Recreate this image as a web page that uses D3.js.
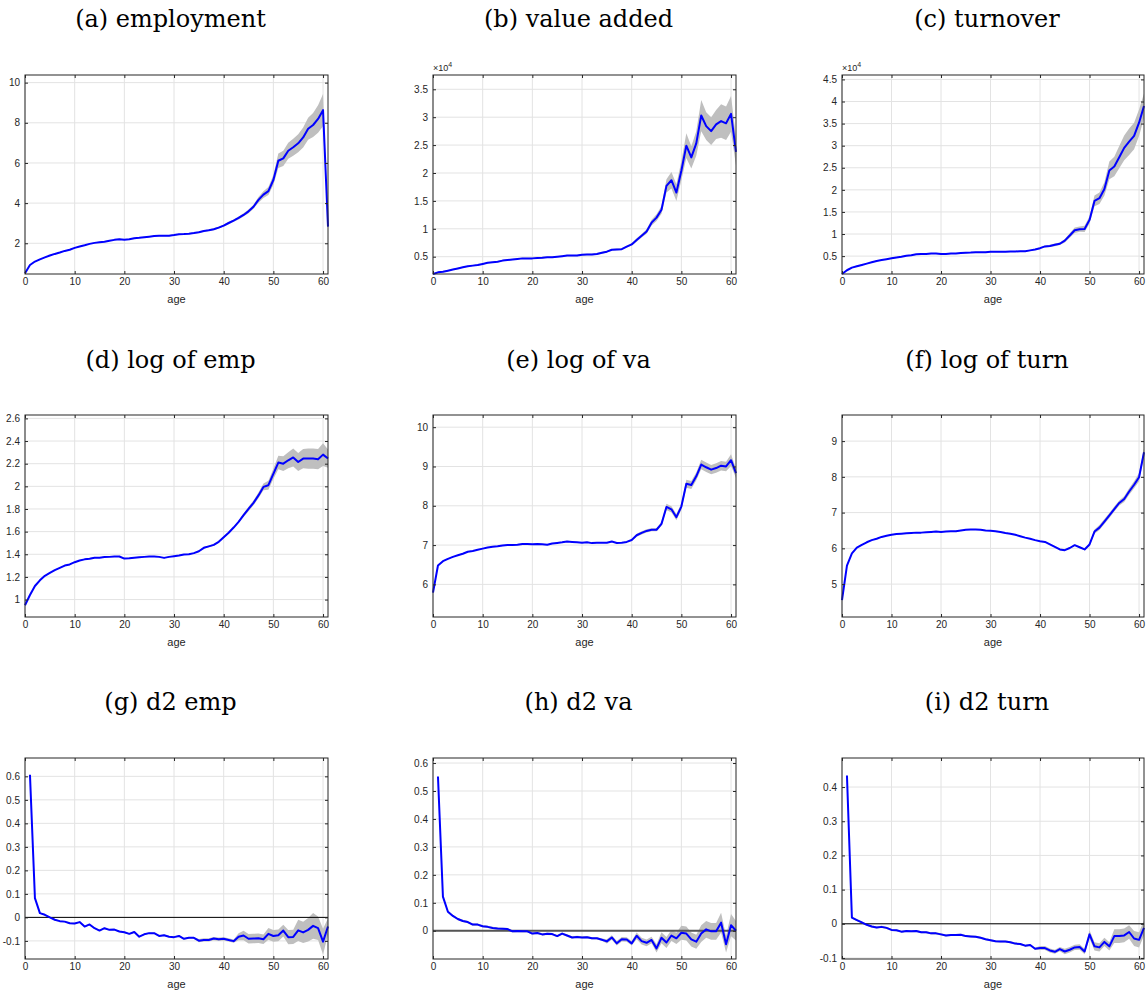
<!DOCTYPE html>
<html>
<head>
<meta charset="utf-8">
<script src="https://cdn.jsdelivr.net/npm/d3@7"></script>
<style>
  body { margin: 0; background: #fff; }
  svg { display: block; }
  .tick text { font-family: "Liberation Sans", Arial, sans-serif; font-size: 10px; fill: #262626; }
</style>
</head>
<body>
<svg id="chart" width="1148" height="991"></svg>
<script>
// ages on the x axis
const ages = d3.range(0, 62);
const ages2 = d3.range(1, 62);

const titles = ['(a) employment', '(b) value added', '(c) turnover',
  '(d) log of emp', '(e) log of va', '(f) log of turn',
  '(g) d2 emp', '(h) d2 va', '(i) d2 turn'];

// (a) employment
const empMean = [0.51, 0.92, 1.09, 1.2, 1.3, 1.39, 1.47, 1.54, 1.62, 1.68,
  1.77, 1.84, 1.9, 1.97, 2.02, 2.05, 2.08, 2.13, 2.17, 2.2,
  2.18, 2.2, 2.25, 2.27, 2.3, 2.33, 2.36, 2.38, 2.38, 2.38,
  2.41, 2.45, 2.46, 2.48, 2.51, 2.55, 2.61, 2.65, 2.7, 2.78,
  2.88, 3.01, 3.13, 3.26, 3.41, 3.59, 3.82, 4.16, 4.42, 4.6,
  5.15, 6.11, 6.23, 6.61, 6.78, 6.98, 7.27, 7.7, 7.89, 8.19,
  8.63, 2.83];
const empBand = [0.02, 0.02, 0.02, 0.02, 0.02, 0.02, 0.02, 0.02, 0.02, 0.02,
  0.02, 0.02, 0.02, 0.02, 0.02, 0.02, 0.02, 0.02, 0.02, 0.02,
  0.02, 0.02, 0.02, 0.02, 0.02, 0.02, 0.02, 0.03, 0.03, 0.03,
  0.03, 0.03, 0.03, 0.03, 0.03, 0.04, 0.04, 0.04, 0.05, 0.05,
  0.05, 0.06, 0.06, 0.07, 0.08, 0.09, 0.1, 0.14, 0.17, 0.2,
  0.25, 0.36, 0.38, 0.4, 0.42, 0.45, 0.5, 0.55, 0.6, 0.68,
  0.8, 0.08];

// (b) value added, x10^4
const vaMean = [0.19, 0.22, 0.23, 0.25, 0.27, 0.29, 0.31, 0.33, 0.34, 0.35,
  0.37, 0.39, 0.4, 0.41, 0.43, 0.44, 0.45, 0.46, 0.47, 0.47,
  0.47, 0.475, 0.48, 0.49, 0.49, 0.5, 0.51, 0.52, 0.52, 0.52,
  0.535, 0.54, 0.54, 0.55, 0.57, 0.59, 0.625, 0.63, 0.635, 0.68,
  0.72, 0.8, 0.875, 0.95, 1.11, 1.2, 1.34, 1.77, 1.87, 1.65,
  2.04, 2.49, 2.28, 2.53, 3.03, 2.84, 2.75, 2.87, 2.93, 2.89,
  3.06, 2.38];
const vaBand = [0.01, 0.01, 0.01, 0.01, 0.01, 0.01, 0.01, 0.01, 0.01, 0.01,
  0.01, 0.01, 0.01, 0.01, 0.01, 0.01, 0.01, 0.01, 0.01, 0.01,
  0.01, 0.01, 0.01, 0.01, 0.01, 0.01, 0.01, 0.01, 0.01, 0.01,
  0.015, 0.015, 0.015, 0.015, 0.015, 0.015, 0.015, 0.015, 0.015, 0.015,
  0.02, 0.03, 0.03, 0.04, 0.05, 0.06, 0.07, 0.12, 0.15, 0.15,
  0.17, 0.22, 0.2, 0.22, 0.28, 0.25, 0.25, 0.26, 0.3, 0.3,
  0.32, 0.25];

// (c) turnover, x10^4
const turnMean = [0.095, 0.18, 0.24, 0.27, 0.3, 0.33, 0.36, 0.39, 0.41, 0.43,
  0.45, 0.47, 0.485, 0.51, 0.52, 0.54, 0.545, 0.55, 0.56, 0.56,
  0.55, 0.55, 0.56, 0.56, 0.57, 0.575, 0.58, 0.59, 0.59, 0.59,
  0.6, 0.6, 0.6, 0.6, 0.605, 0.605, 0.61, 0.61, 0.63, 0.65,
  0.68, 0.72, 0.73, 0.755, 0.78, 0.85, 0.965, 1.085, 1.11, 1.115,
  1.32, 1.75, 1.81, 2.02, 2.44, 2.53, 2.74, 2.95, 3.09, 3.22,
  3.52, 3.9];
const turnBand = [0.01, 0.01, 0.01, 0.01, 0.01, 0.01, 0.01, 0.01, 0.01, 0.01,
  0.01, 0.01, 0.01, 0.01, 0.01, 0.01, 0.01, 0.01, 0.01, 0.01,
  0.01, 0.01, 0.01, 0.01, 0.01, 0.01, 0.01, 0.01, 0.01, 0.01,
  0.012, 0.012, 0.012, 0.012, 0.012, 0.012, 0.012, 0.012, 0.012, 0.012,
  0.02, 0.02, 0.025, 0.03, 0.03, 0.04, 0.05, 0.06, 0.06, 0.07,
  0.08, 0.12, 0.13, 0.15, 0.2, 0.22, 0.25, 0.28, 0.3, 0.3,
  0.3, 0.28];

// (d) log of emp
const lempMean = [0.95, 1.04, 1.12, 1.17, 1.21, 1.235, 1.26, 1.28, 1.3, 1.31,
  1.33, 1.345, 1.355, 1.36, 1.37, 1.37, 1.375, 1.377, 1.38, 1.38,
  1.362, 1.365, 1.37, 1.374, 1.377, 1.38, 1.38, 1.377, 1.368, 1.377,
  1.383, 1.39, 1.398, 1.4, 1.41, 1.427, 1.457, 1.47, 1.483, 1.51,
  1.55, 1.59, 1.636, 1.686, 1.745, 1.8, 1.854, 1.92, 1.995, 2.01,
  2.11, 2.21, 2.2, 2.23, 2.255, 2.215, 2.245, 2.245, 2.245, 2.24,
  2.28, 2.245];
const lempBand = [0.004, 0.004, 0.004, 0.004, 0.004, 0.004, 0.004, 0.004, 0.004, 0.004,
  0.004, 0.004, 0.004, 0.004, 0.004, 0.004, 0.004, 0.004, 0.004, 0.004,
  0.004, 0.004, 0.004, 0.004, 0.004, 0.004, 0.004, 0.004, 0.004, 0.004,
  0.004, 0.004, 0.004, 0.004, 0.004, 0.004, 0.008, 0.008, 0.008, 0.008,
  0.008, 0.008, 0.008, 0.008, 0.015, 0.02, 0.02, 0.025, 0.03, 0.04,
  0.045, 0.06, 0.065, 0.07, 0.08, 0.08, 0.085, 0.09, 0.09, 0.09,
  0.1, 0.08];

// (e) log of va
const lvaMean = [5.79, 6.48, 6.59, 6.65, 6.7, 6.74, 6.78, 6.83, 6.85, 6.88,
  6.91, 6.94, 6.96, 6.97, 6.99, 7.0, 7.0, 7.01, 7.03, 7.03,
  7.02, 7.03, 7.02, 7.01, 7.04, 7.055, 7.07, 7.09, 7.08, 7.07,
  7.06, 7.07, 7.05, 7.06, 7.06, 7.06, 7.09, 7.055, 7.06, 7.08,
  7.13, 7.25, 7.31, 7.36, 7.39, 7.39, 7.54, 7.97, 7.91, 7.71,
  7.98, 8.56, 8.53, 8.75, 9.05, 8.98, 8.92, 8.96, 9.02, 9.0,
  9.16, 8.83];
const lvaBand = [0.008, 0.008, 0.008, 0.008, 0.008, 0.008, 0.008, 0.008, 0.008, 0.008,
  0.008, 0.008, 0.008, 0.008, 0.008, 0.008, 0.008, 0.008, 0.008, 0.008,
  0.008, 0.008, 0.008, 0.008, 0.008, 0.008, 0.008, 0.008, 0.008, 0.008,
  0.008, 0.008, 0.008, 0.008, 0.008, 0.008, 0.008, 0.008, 0.008, 0.008,
  0.02, 0.04, 0.04, 0.04, 0.04, 0.04, 0.05, 0.08, 0.08, 0.08,
  0.08, 0.1, 0.1, 0.1, 0.12, 0.12, 0.12, 0.12, 0.12, 0.12,
  0.15, 0.12];

// (f) log of turn
const lturnMean = [4.55, 5.52, 5.86, 6.02, 6.1, 6.17, 6.23, 6.27, 6.32, 6.35,
  6.38, 6.4, 6.41, 6.42, 6.43, 6.44, 6.44, 6.45, 6.46, 6.47,
  6.46, 6.47, 6.48, 6.48, 6.5, 6.52, 6.53, 6.53, 6.52, 6.5,
  6.49, 6.48, 6.46, 6.43, 6.41, 6.38, 6.34, 6.3, 6.27, 6.23,
  6.2, 6.18, 6.11, 6.04, 5.97, 5.95, 6.01, 6.09, 6.03, 5.97,
  6.11, 6.47, 6.58, 6.75, 6.92, 7.1, 7.27, 7.38, 7.59, 7.78,
  7.99, 8.69];
const lturnBand = [0.008, 0.008, 0.008, 0.008, 0.008, 0.008, 0.008, 0.008, 0.008, 0.008,
  0.008, 0.008, 0.008, 0.008, 0.008, 0.008, 0.008, 0.008, 0.008, 0.008,
  0.008, 0.008, 0.008, 0.008, 0.008, 0.008, 0.008, 0.008, 0.008, 0.008,
  0.008, 0.008, 0.008, 0.008, 0.008, 0.008, 0.008, 0.008, 0.008, 0.008,
  0.008, 0.008, 0.008, 0.008, 0.02, 0.02, 0.02, 0.02, 0.02, 0.02,
  0.03, 0.06, 0.07, 0.07, 0.07, 0.07, 0.07, 0.08, 0.09, 0.1,
  0.12, 0.1];

// (g) d2 emp, ages 1..61
const d2empMean = [0.607, 0.082, 0.018, 0.011, 0.0, -0.01, -0.016, -0.018, -0.025,
  -0.026, -0.02, -0.039, -0.03, -0.046, -0.056, -0.046, -0.053, -0.052, -0.06,
  -0.063, -0.07, -0.062, -0.082, -0.072, -0.067, -0.067, -0.079, -0.076, -0.082,
  -0.084, -0.079, -0.091, -0.087, -0.087, -0.099, -0.096, -0.096, -0.09, -0.093,
  -0.091, -0.096, -0.101, -0.082, -0.077, -0.091, -0.09, -0.089, -0.093, -0.07,
  -0.079, -0.076, -0.056, -0.084, -0.083, -0.055, -0.064, -0.053, -0.036, -0.046,
  -0.103, -0.039];
const d2empBand = [0.003, 0.003, 0.003, 0.003, 0.003, 0.003, 0.003, 0.003, 0.003,
  0.003, 0.003, 0.003, 0.003, 0.003, 0.003, 0.003, 0.003, 0.003, 0.003,
  0.003, 0.003, 0.003, 0.003, 0.003, 0.003, 0.003, 0.003, 0.003, 0.003,
  0.003, 0.003, 0.003, 0.003, 0.003, 0.007, 0.007, 0.007, 0.007, 0.007,
  0.007, 0.007, 0.007, 0.015, 0.02, 0.02, 0.02, 0.02, 0.02, 0.025,
  0.025, 0.025, 0.025, 0.03, 0.03, 0.045, 0.045, 0.05, 0.055, 0.05,
  0.055, 0.035];

// (h) d2 va, ages 1..61
const d2vaMean = [0.552, 0.122, 0.068, 0.053, 0.042, 0.035, 0.031, 0.022, 0.022,
  0.016, 0.014, 0.01, 0.008, 0.007, 0.006, -0.002, -0.001, -0.002, -0.002,
  -0.01, -0.008, -0.013, -0.011, -0.012, -0.019, -0.01, -0.017, -0.024, -0.022,
  -0.024, -0.023, -0.027, -0.027, -0.032, -0.038, -0.024, -0.045, -0.03, -0.031,
  -0.045, -0.018, -0.037, -0.043, -0.033, -0.063, -0.025, -0.042, -0.017, -0.027,
  -0.007, -0.01, -0.031, -0.039, -0.01, 0.005, -0.002, -0.002, 0.029, -0.048,
  0.02, 0.0];
const d2vaBand = [0.004, 0.004, 0.004, 0.004, 0.004, 0.004, 0.004, 0.004, 0.004,
  0.004, 0.004, 0.004, 0.004, 0.004, 0.004, 0.004, 0.004, 0.004, 0.004,
  0.004, 0.004, 0.004, 0.004, 0.004, 0.004, 0.004, 0.004, 0.004, 0.004,
  0.004, 0.004, 0.004, 0.004, 0.004, 0.008, 0.008, 0.008, 0.008, 0.008,
  0.008, 0.012, 0.012, 0.012, 0.012, 0.015, 0.02, 0.02, 0.02, 0.02,
  0.025, 0.025, 0.025, 0.025, 0.03, 0.03, 0.03, 0.03, 0.035, 0.03,
  0.04, 0.035];

// (i) d2 turn, ages 1..61
const d2turnMean = [0.434, 0.018, 0.011, 0.004, -0.003, -0.008, -0.011, -0.009, -0.012,
  -0.018, -0.019, -0.023, -0.021, -0.022, -0.021, -0.025, -0.025, -0.028, -0.028,
  -0.031, -0.034, -0.033, -0.033, -0.032, -0.036, -0.037, -0.038, -0.041, -0.045,
  -0.048, -0.051, -0.052, -0.052, -0.054, -0.058, -0.059, -0.064, -0.062, -0.073,
  -0.071, -0.071, -0.078, -0.082, -0.074, -0.081, -0.076, -0.069, -0.068, -0.081,
  -0.031, -0.066, -0.069, -0.053, -0.066, -0.036, -0.036, -0.034, -0.024, -0.043,
  -0.047, -0.012];
const d2turnBand = [0.003, 0.003, 0.003, 0.003, 0.003, 0.003, 0.003, 0.003, 0.003,
  0.003, 0.003, 0.003, 0.003, 0.003, 0.003, 0.003, 0.003, 0.003, 0.003,
  0.003, 0.003, 0.003, 0.003, 0.003, 0.003, 0.003, 0.003, 0.003, 0.003,
  0.003, 0.003, 0.003, 0.003, 0.003, 0.003, 0.003, 0.003, 0.003, 0.003,
  0.006, 0.006, 0.006, 0.006, 0.006, 0.008, 0.008, 0.008, 0.008, 0.008,
  0.012, 0.012, 0.012, 0.012, 0.012, 0.02, 0.02, 0.02, 0.02, 0.022,
  0.022, 0.022];

const xTicks = [0, 10, 20, 30, 40, 50, 60];
const yTicksList = [
  [2, 4, 6, 8, 10],
  [0.5, 1, 1.5, 2, 2.5, 3, 3.5],
  [0.5, 1, 1.5, 2, 2.5, 3, 3.5, 4, 4.5],
  [1, 1.2, 1.4, 1.6, 1.8, 2, 2.2, 2.4, 2.6],
  [6, 7, 8, 9, 10],
  [5, 6, 7, 8, 9],
  [-0.1, 0, 0.1, 0.2, 0.3, 0.4, 0.5, 0.6],
  [0, 0.1, 0.2, 0.3, 0.4, 0.5, 0.6],
  [-0.1, 0, 0.1, 0.2, 0.3, 0.4]
];
const yDomains = [
  [0.47, 10.38], [0.19, 3.756], [0.095, 4.6],
  [0.846, 2.63], [5.17, 10.31], [4.08, 9.73],
  [-0.177, 0.678], [-0.101, 0.618], [-0.103, 0.485]
];

const panels = [
  {x: ages, mean: empMean, band: empBand},
  {x: ages, mean: vaMean, band: vaBand, exponent: true},
  {x: ages, mean: turnMean, band: turnBand, exponent: true},
  {x: ages, mean: lempMean, band: lempBand},
  {x: ages, mean: lvaMean, band: lvaBand},
  {x: ages, mean: lturnMean, band: lturnBand},
  {x: ages2, mean: d2empMean, band: d2empBand, zero: true},
  {x: ages2, mean: d2vaMean, band: d2vaBand, zero: true},
  {x: ages2, mean: d2turnMean, band: d2turnBand, zero: true}
];

// layout of the 3x3 grid of axes
const colLeft = [25, 433, 842];
const colRight = [328, 736, 1144];
const rowTop = [75, 415, 758];
const rowBottom = [274, 617, 959];
const titleY = [27, 368, 710];

const svg = d3.select('#chart');
const fmt = d => String(+d.toFixed(2));

panels.forEach((p, i) => {
  const col = i % 3, row = Math.floor(i / 3);
  const L = colLeft[col], R = colRight[col], T = rowTop[row], B = rowBottom[row];

  const x = d3.scaleLinear().domain([0, 61]).range([L, R]);
  const y = d3.scaleLinear().domain(yDomains[i]).range([B, T]);
  const yTicks = yTicksList[i];

  const g = svg.append('g');

  // grid
  g.append('g').selectAll('line').data(xTicks).join('line')
    .attr('x1', d => x(d)).attr('x2', d => x(d)).attr('y1', T).attr('y2', B)
    .attr('stroke', '#e3e3e3').attr('stroke-width', 1);
  g.append('g').selectAll('line').data(yTicks).join('line')
    .attr('y1', d => y(d)).attr('y2', d => y(d)).attr('x1', L).attr('x2', R)
    .attr('stroke', '#e3e3e3').attr('stroke-width', 1);

  const pts = p.x.map((a, k) => ({a, m: p.mean[k], h: p.band[k]}));

  // confidence band
  const area = d3.area()
    .x(d => x(d.a))
    .y0(d => y(d.m - d.h))
    .y1(d => y(d.m + d.h));
  g.append('path').datum(pts)
    .attr('d', area)
    .attr('fill', '#bfbfbf');

  if (p.zero) {
    g.append('line')
      .attr('x1', L).attr('x2', R).attr('y1', y(0)).attr('y2', y(0))
      .attr('stroke', i === 7 ? '#555' : '#000')
      .attr('stroke-width', i === 7 ? 2 : 1);
  }

  const line = d3.line().x(d => x(d.a)).y(d => y(d.m));
  g.append('path').datum(pts)
    .attr('d', line)
    .attr('fill', 'none')
    .attr('stroke', '#0000ff')
    .attr('stroke-width', 2)
    .attr('stroke-linejoin', 'round');

  // axes, ticks pointing inward on all sides
  const axB = g.append('g').attr('transform', `translate(0,${B})`)
    .call(d3.axisBottom(x).tickValues(xTicks).tickSize(-3).tickPadding(4).tickFormat(fmt));
  const axT = g.append('g').attr('transform', `translate(0,${T})`)
    .call(d3.axisTop(x).tickValues(xTicks).tickSize(-3).tickFormat(''));
  const axL = g.append('g').attr('transform', `translate(${L},0)`)
    .call(d3.axisLeft(y).tickValues(yTicks).tickSize(-3).tickPadding(5).tickFormat(fmt));
  const axR = g.append('g').attr('transform', `translate(${R},0)`)
    .call(d3.axisRight(y).tickValues(yTicks).tickSize(-3).tickFormat(''));
  [axB, axT, axL, axR].forEach(a => {
    a.select('.domain').remove();
    a.selectAll('.tick line').attr('stroke', '#262626');
  });

  g.append('rect')
    .attr('x', L).attr('y', T).attr('width', R - L).attr('height', B - T)
    .attr('fill', 'none').attr('stroke', '#262626').attr('stroke-width', 1);

  g.append('text')
    .attr('x', (L + R) / 2).attr('y', B + 29)
    .attr('text-anchor', 'middle')
    .attr('font-family', '"Liberation Sans", Arial, sans-serif')
    .attr('font-size', 11).attr('fill', '#262626')
    .text('age');

  if (p.exponent) {
    const t = g.append('text')
      .attr('x', L).attr('y', T - 4)
      .attr('font-family', '"Liberation Sans", Arial, sans-serif')
      .attr('font-size', 9).attr('fill', '#262626');
    t.append('tspan').text('\u00d710');
    t.append('tspan').attr('dy', -4).attr('font-size', 7).text('4');
  }

  svg.append('text')
    .attr('x', (L + R) / 2 - 6).attr('y', titleY[row])
    .attr('text-anchor', 'middle')
    .attr('font-family', '"DejaVu Serif", serif')
    .attr('font-size', 24).attr('fill', '#000')
    .text(titles[i]);
});
</script>
</body>
</html>
